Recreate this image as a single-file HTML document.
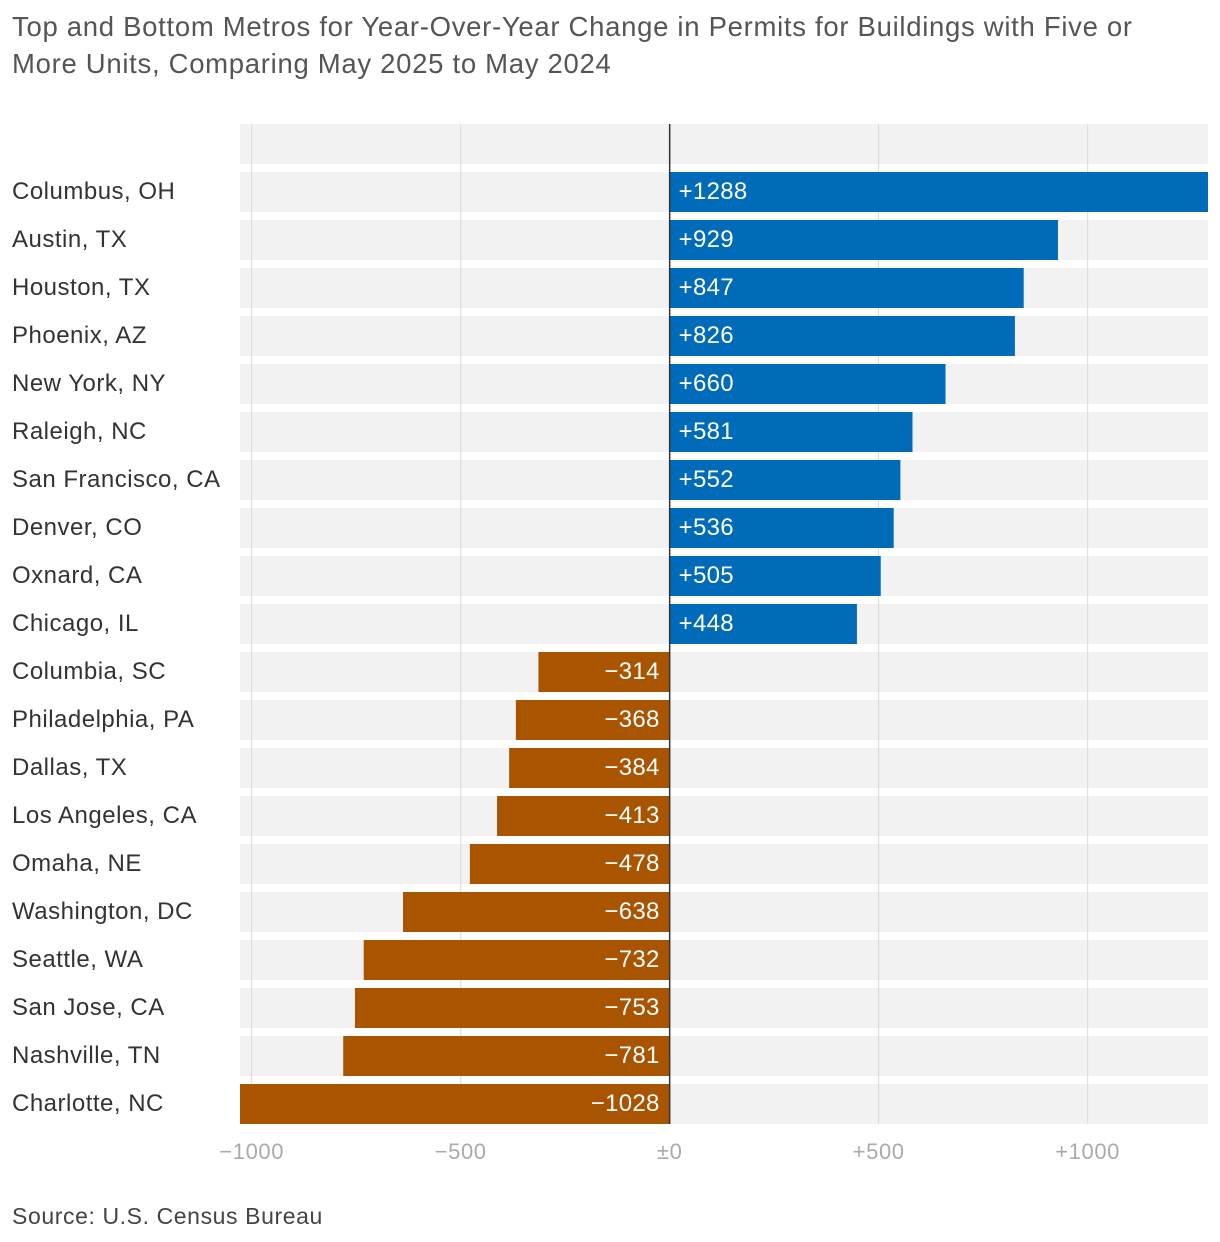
<!DOCTYPE html>
<html><head><meta charset="utf-8"><style>
body{margin:0;background:#fff;font-family:"Liberation Sans",Arial,sans-serif;}
#wrap{position:relative;width:1220px;height:1242px;}
.title{position:absolute;left:12px;top:8px;font-size:27.5px;line-height:37px;color:#555;width:1210px;letter-spacing:0.7px;white-space:nowrap;}
.src{position:absolute;left:12px;top:1203px;font-size:23px;color:#444;letter-spacing:0.6px;}
</style></head><body>
<div id="wrap">
<div class="title">Top and Bottom Metros for Year-Over-Year Change in Permits for Buildings with Five or<br>More Units, Comparing May 2025 to May 2024</div>
<svg id="chart" width="1220" height="1242" style="position:absolute;left:0;top:0"></svg>
<div class="src">Source: U.S. Census Bureau</div>
</div>
<script>
const categories=["Columbus, OH","Austin, TX","Houston, TX","Phoenix, AZ","New York, NY","Raleigh, NC","San Francisco, CA","Denver, CO","Oxnard, CA","Chicago, IL","Columbia, SC","Philadelphia, PA","Dallas, TX","Los Angeles, CA","Omaha, NE","Washington, DC","Seattle, WA","San Jose, CA","Nashville, TN","Charlotte, NC"];
const values=[1288,929,847,826,660,581,552,536,505,448,-314,-368,-384,-413,-478,-638,-732,-753,-781,-1028];
const tickValues=[-1000,-500,0,500,1000];
const tickLabels=["\u22121000","\u2212500","\u00b10","+500","+1000"];
const NS="http://www.w3.org/2000/svg";
const svg=document.getElementById('chart');
const x0=240,x1=1208;
const vmin=Math.min(0,...values),vmax=Math.max(0,...values);
function xs(v){return x0+(v-vmin)/(vmax-vmin)*(x1-x0);}
function ys(i){return 172+i*48;}
function mk(t,a){const e=document.createElementNS(NS,t);for(const k in a)e.setAttribute(k,a[k]);svg.appendChild(e);return e;}
for(let i=-1;i<categories.length;i++){
 const b=mk('rect',{x:x0,y:ys(i),width:x1-x0,height:40,fill:'#f2f2f2'});
 
 
}
tickValues.forEach((v,k)=>{
 const l=mk('line',{x1:xs(v),x2:xs(v),y1:124,y2:1124,stroke:'#d9d9d9','stroke-width':1});
 
 
 const t=mk('text',{x:xs(v),y:1159,'text-anchor':'middle','font-size':22,fill:'#aaa','letter-spacing':0.6});
 t.textContent=tickLabels[k];
 
 
});
categories.forEach((c,i)=>{
 const v=values[i];
 const y=ys(i);
 const lab=mk('text',{x:12,y:y+27,'font-size':24,fill:'#333','letter-spacing':0.5});
 lab.textContent=c;
 
 
 const xa=Math.min(xs(0),xs(v)),w=Math.abs(xs(v)-xs(0));
 const r=mk('rect',{x:xa,y:y,width:w,height:40,fill:v>=0?'#006bb8':'#a85400'});
 
 
 const t=mk('text',{x:v>=0?xs(0)+9:xs(0)-10,y:y+27,'font-size':24,fill:'#fff','text-anchor':v>=0?'start':'end','letter-spacing':0.3});
 t.textContent=(v>=0?'+':'\u2212')+Math.abs(v);
 
 
});
const z=mk('line',{x1:xs(0),x2:xs(0),y1:124,y2:1124,stroke:'#333','stroke-width':1.5});


</script>
</body></html>
